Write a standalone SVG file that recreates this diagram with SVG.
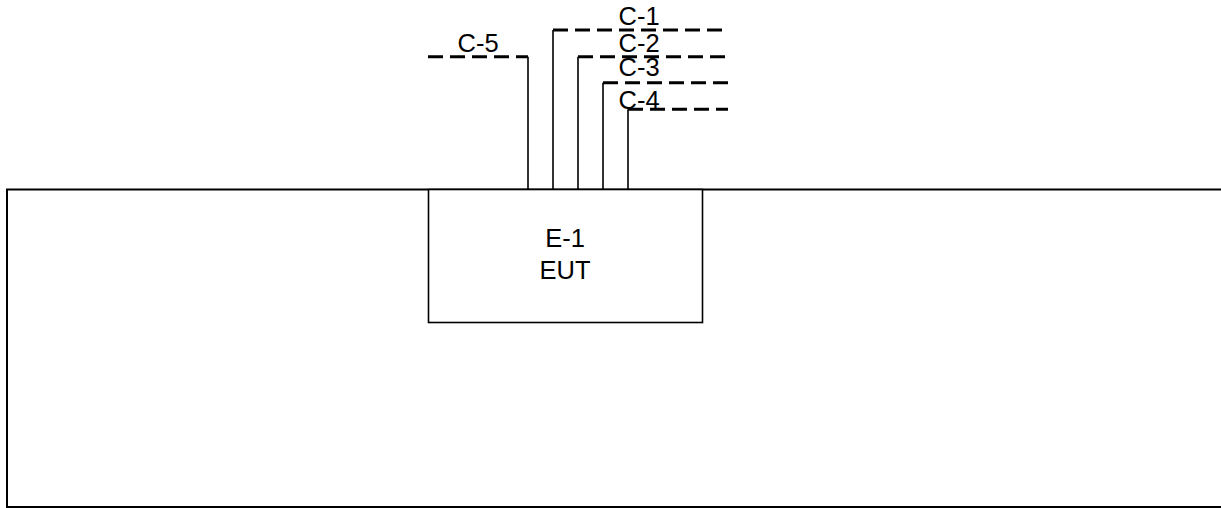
<svg xmlns="http://www.w3.org/2000/svg" width="1221" height="508" viewBox="0 0 1221 508">
<style>
.frame{fill:none;stroke:#000;stroke-width:2}
.box{fill:#fff;stroke:#000;stroke-width:1.6}
.lead{fill:none;stroke:#000;stroke-width:1.6}
.cable{fill:none;stroke:#000;stroke-width:3;stroke-dasharray:15 7}
text{font-family:"Liberation Sans",Arial,sans-serif;font-size:25.5px;fill:#000}
</style>
<rect width="1221" height="508" fill="#fff"/>
<g id="table">
<rect class="frame" x="7" y="189.5" width="1240" height="317.5"/>
</g>
<g id="E-1">
<rect class="box" x="428.5" y="189.5" width="274" height="133"/>
<text x="565" y="247" text-anchor="middle">E-1</text>
<text x="565" y="278.5" text-anchor="middle">EUT</text>
</g>
<g id="connectors">
<path class="lead" d="M528 189.5V56.7M553 189.5V30M578 189.5V56.7M603 189.5V82.7M628 189.5V109.3"/>
<path class="cable" d="M553 30H728"/>
<path class="cable" d="M578 56.7H728"/>
<path class="cable" d="M603 82.7H728"/>
<path class="cable" d="M628 109.3H728"/>
<path class="cable" d="M428 56.7H528"/>
</g>
<g id="labels">
<text x="618.5" y="25">C-1</text>
<text x="618.5" y="51.5">C-2</text>
<text x="618.5" y="76">C-3</text>
<text x="618.5" y="108.5">C-4</text>
<text x="457.5" y="51.5">C-5</text>
</g>
</svg>
